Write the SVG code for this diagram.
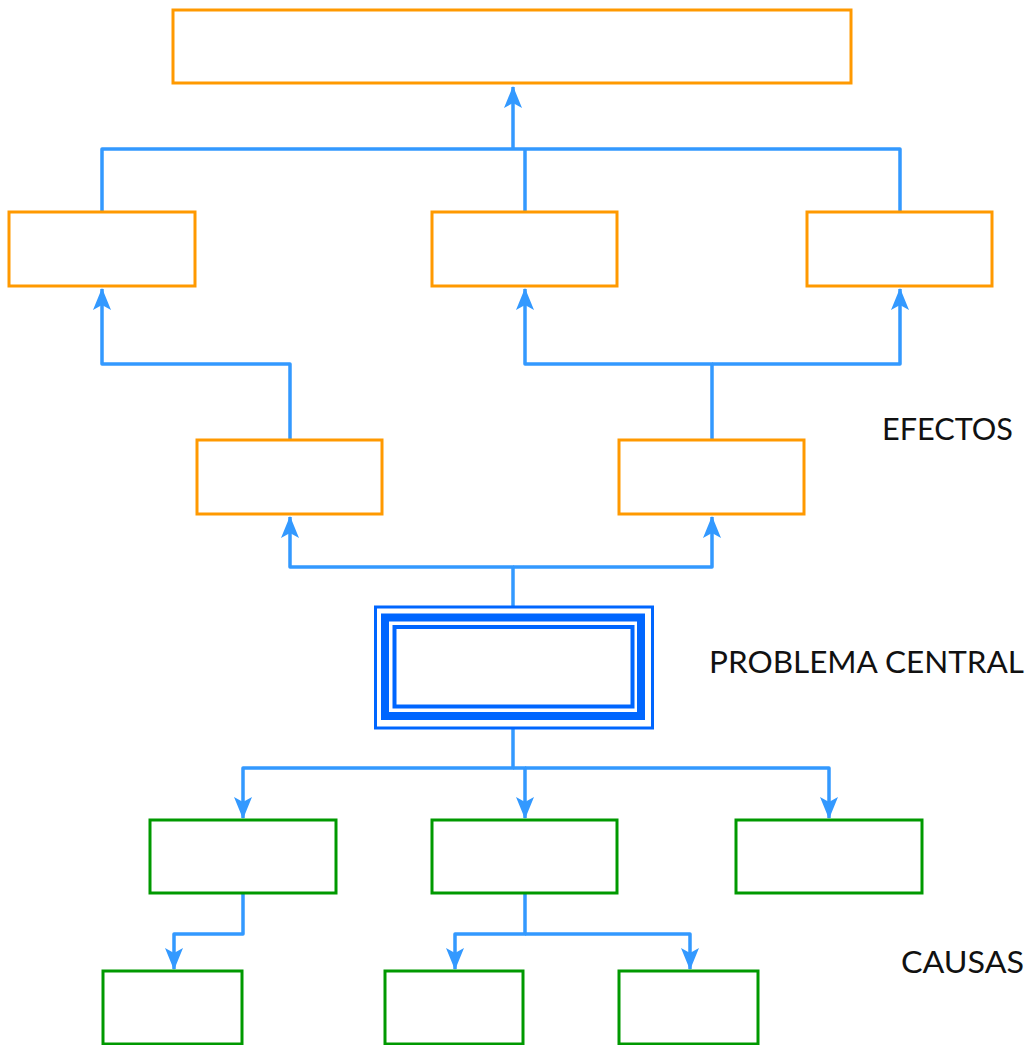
<svg xmlns="http://www.w3.org/2000/svg" width="1030" height="1045" viewBox="0 0 1030 1045">
<style>
.eff{fill:#fff;stroke:#FF9900;stroke-width:3}
.cau{fill:#fff;stroke:#009900;stroke-width:3}
.con{fill:none;stroke:#3399FF;stroke-width:3.5;stroke-linejoin:round}
.lbl{font-family:"Lato","Open Sans","DejaVu Sans",sans-serif;font-size:30px;fill:#111;text-anchor:end}
</style>
<defs>
<marker id="ah" viewBox="0 0 22 20" refX="21" refY="10" markerWidth="22" markerHeight="20" markerUnits="userSpaceOnUse" orient="auto">
<path d="M0,1 L22,10 L0,19 L5,10 Z" fill="#3399FF"/>
</marker>
</defs>
<rect width="1030" height="1045" fill="#fff"/>
<g id="connectors">
<path class="con" d="M513,149 V87" marker-end="url(#ah)"/>
<path class="con" d="M102,212 V149 H900 V212 M525,149 V212"/>
<path class="con" d="M290,440 V364 H102 V289" marker-end="url(#ah)"/>
<path class="con" d="M712,440 V364 H525 V289" marker-end="url(#ah)"/>
<path class="con" d="M712,364 H900 V289" marker-end="url(#ah)"/>
<path class="con" d="M513,606 V567 H290 V517" marker-end="url(#ah)"/>
<path class="con" d="M513,567 H712 V517" marker-end="url(#ah)"/>
<path class="con" d="M513,729 V768 H243 V818" marker-end="url(#ah)"/>
<path class="con" d="M513,768 H525 V818" marker-end="url(#ah)"/>
<path class="con" d="M525,768 H829 V818" marker-end="url(#ah)"/>
<path class="con" d="M243,893 V934 H174 V969" marker-end="url(#ah)"/>
<path class="con" d="M525,893 V934 H455 V969" marker-end="url(#ah)"/>
<path class="con" d="M525,934 H690 V969" marker-end="url(#ah)"/>
</g>
<g id="efecto-top"><rect class="eff" x="173" y="10" width="678" height="73"/></g>
<g id="efecto-2a"><rect class="eff" x="9" y="212" width="186" height="74"/></g>
<g id="efecto-2b"><rect class="eff" x="432" y="212" width="185" height="74"/></g>
<g id="efecto-2c"><rect class="eff" x="807" y="212" width="185" height="74"/></g>
<g id="efecto-3a"><rect class="eff" x="197" y="440" width="185" height="74"/></g>
<g id="efecto-3b"><rect class="eff" x="619" y="440" width="185" height="74"/></g>
<g id="problema-central">
<rect x="375.5" y="607" width="277" height="121" fill="#fff" stroke="#0066FF" stroke-width="3"/>
<rect x="385" y="617.5" width="256" height="98.5" fill="none" stroke="#0066FF" stroke-width="8"/>
<rect x="394.5" y="627" width="238" height="79.5" fill="none" stroke="#0066FF" stroke-width="4"/>
</g>
<g id="causa-1a"><rect class="cau" x="150" y="820" width="186" height="73"/></g>
<g id="causa-1b"><rect class="cau" x="432" y="820" width="185" height="73"/></g>
<g id="causa-1c"><rect class="cau" x="736" y="820" width="186" height="73"/></g>
<g id="causa-2a"><rect class="cau" x="103" y="971" width="139" height="73"/></g>
<g id="causa-2b"><rect class="cau" x="385" y="971" width="138" height="73"/></g>
<g id="causa-2c"><rect class="cau" x="619" y="971" width="139" height="73"/></g>
<g id="labels">
<text class="lbl" x="1013" y="440" textLength="131" lengthAdjust="spacingAndGlyphs">EFECTOS</text>
<text class="lbl" x="1024" y="673" textLength="315" lengthAdjust="spacingAndGlyphs">PROBLEMA CENTRAL</text>
<text class="lbl" x="1024" y="973" textLength="123" lengthAdjust="spacingAndGlyphs">CAUSAS</text>
</g>
</svg>
